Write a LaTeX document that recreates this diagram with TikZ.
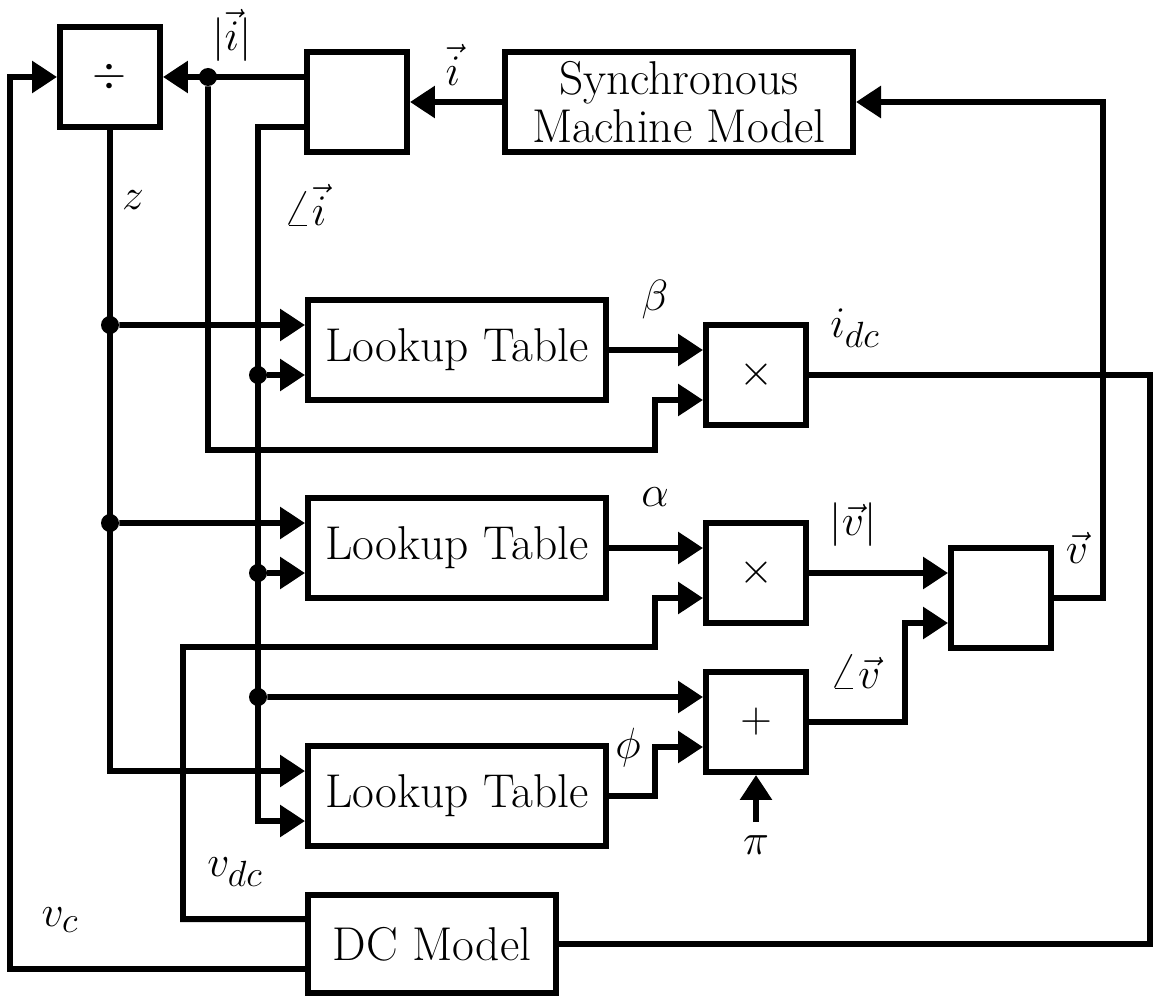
\documentclass[tikz,border=0pt]{standalone}
\usepackage{amsmath}
\usetikzlibrary{arrows.meta,calc}
\tikzset{
	block/.style={draw,line width=3.4pt,minimum width=2cm,minimum height=2cm,inner sep=0pt,font=\fontsize{27}{31}\selectfont},
	wire/.style={line width=3.4pt},
	jdot/.style={circle,fill,inner sep=0pt,minimum size=0.36cm},
	lbl/.style={font=\Huge}
}
\begin{document}
\begin{tikzpicture}[line join=miter,>={Triangle[length=0.5cm,width=0.62cm]},x=1.0cm,y=1.0cm]
	\useasboundingbox (0,0) rectangle (23.1,-19.98);
	\node[block] (div) at (2.2,-1.54) {$\div$};
	\node[block] (pol) at (7.14,-2.04) {};
	\node[block,minimum width=6.96cm,align=center] (sync) at (13.58,-2.04) {Synchronous\\[-4pt]Machine Model};
	\node[block,minimum width=5.96cm] (lut1) at (9.14,-7.0) {Lookup Table};
	\node[block] (mul1) at (15.12,-7.5) {$\times$};
	\node[block,minimum width=5.96cm] (lut2) at (9.14,-10.96) {Lookup Table};
	\node[block] (mul2) at (15.12,-11.46) {$\times$};
	\node[block] (pv) at (20.02,-11.96) {};
	\node[block] (add) at (15.12,-14.44) {$+$};
	\node[block,minimum width=5.96cm] (lut3) at (9.14,-15.92) {Lookup Table};
	\node[block,minimum width=4.96cm,minimum height=1.96cm] (dc) at (8.64,-18.88) {DC Model};
	\coordinate (pin) at (15.12,-16.44);
	\node[jdot] (ja) at (4.16,-1.54) {};
	\node[jdot] (z1) at (2.2,-6.5) {};
	\node[jdot] (z2) at (2.2,-10.46) {};
	\node[jdot] (a1) at (5.16,-7.5) {};
	\node[jdot] (a2) at (5.16,-11.46) {};
	\node[jdot] (a3) at (5.16,-13.94) {};
	\draw[wire,->] (sync.west) -- (pol.east);
	\draw[wire,->] ($(pol.west)+(0,0.5)$) -- (div.east);
	\draw[wire,->] (ja) -- (4.16,-9.0) -| (13.1,-8.0) -- ($(mul1.west)+(0,-0.5)$);
	\draw[wire,->] ($(pol.west)+(0,-0.5)$) -| (5.16,-16.42) -- ($(lut3.west)+(0,-0.5)$);
	\draw[wire,->] (a1) -- ($(lut1.west)+(0,-0.5)$);
	\draw[wire,->] (a2) -- ($(lut2.west)+(0,-0.5)$);
	\draw[wire,->] (a3) -- ($(add.west)+(0,0.5)$);
	\draw[wire,->] (div.south) |- ($(lut3.west)+(0,0.5)$);
	\draw[wire,->] (z1) -- ($(lut1.west)+(0,0.5)$);
	\draw[wire,->] (z2) -- ($(lut2.west)+(0,0.5)$);
	\draw[wire,->] (lut1.east) -- ($(mul1.west)+(0,0.5)$);
	\draw[wire,->] (lut2.east) -- ($(mul2.west)+(0,0.5)$);
	\draw[wire,->] (lut3.east) -| (13.1,-14.94) -- ($(add.west)+(0,-0.5)$);
	\draw[wire] (mul1.east) -| (23.0,-18.88) -- (dc.east);
	\draw[wire,->] (mul2.east) -- ($(pv.west)+(0,0.5)$);
	\draw[wire,->] (add.east) -| (18.1,-12.46) -- ($(pv.west)+(0,-0.5)$);
	\draw[wire,->] (pv.east) -| (22.06,-2.04) -- (sync.east);
	\draw[wire,->] ($(dc.west)+(0,0.5)$) -| (3.66,-12.94) -| (13.1,-11.96) -- ($(mul2.west)+(0,-0.5)$);
	\draw[wire,->] ($(dc.west)+(0,-0.5)$) -| (0.2,-1.54) -- (div.west);
	\draw[wire,->] (pin) -- (add.south);
	\node[lbl] (lia) at (4.64,-0.7) {$|\vec{i}|$};
	\node[lbl] (livec) at (9.06,-1.3) {$\vec{i}$};
	\node[lbl] (lz) at (2.66,-4.0) {$z$};
	\node[lbl] (lang) at (6.1,-4.1) {$\angle\vec{i}$};
	\node[lbl] (lbeta) at (13.1,-6.0) {$\beta$};
	\node[lbl] (lidc) at (17.1,-6.56) {$i_{dc}$};
	\node[lbl] (lalpha) at (13.1,-9.94) {$\alpha$};
	\node[lbl] (lvabs) at (17.06,-10.5) {$|\vec{v}|$};
	\node[lbl] (lv) at (21.54,-10.96) {$\vec{v}$};
	\node[lbl] (lvang) at (17.1,-13.44) {$\angle\vec{v}$};
	\node[lbl] (lphi) at (12.56,-14.96) {$\phi$};
	\node[lbl] (lpi) at (15.12,-16.9) {$\pi$};
	\node[lbl] (lvdc) at (4.7,-17.44) {$v_{dc}$};
	\node[lbl] (lvc) at (1.2,-18.4) {$v_c$};
\end{tikzpicture}
\end{document}
